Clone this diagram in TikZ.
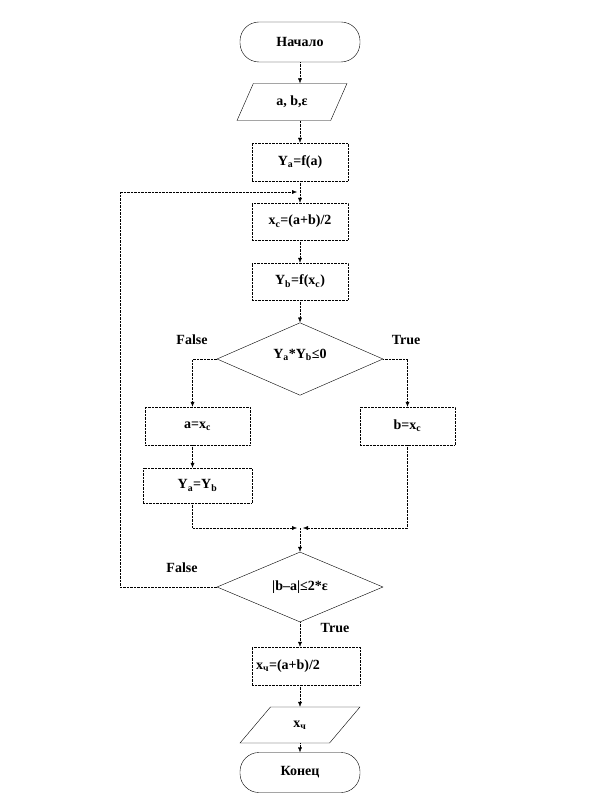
\documentclass[tikz,border=0pt]{standalone}
\usepackage{fontspec}
\setmainfont{Liberation Serif}
\usetikzlibrary{shapes.geometric,arrows.meta}
\begin{document}
\begin{tikzpicture}[x=1pt,y=-1pt,
  every node/.style={font=\fontsize{14}{16}\selectfont\bfseries},
  term/.style={draw, rounded corners=19pt, minimum width=120pt, minimum height=40pt, inner sep=0pt},
  proc/.style={draw, densely dotted, minimum height=38pt, inner sep=0pt},
  io/.style={draw, trapezium, trapezium stretches=true, minimum height=37pt, inner sep=0pt},
  dec/.style={draw, diamond, minimum width=166pt, minimum height=72pt, inner sep=0pt},
  arr/.style={densely dotted, -{Latex[length=5pt,width=4pt]}},
  lbl/.style={}]
\useasboundingbox (0,0) rectangle (600,794);
\node[term] (start) at (300,42) {Начало};
\node[io, trapezium left angle=61, trapezium right angle=119, minimum width=110pt] (in1) at (292,102) {a, b,ε};
\node[proc, minimum width=96pt] (ya) at (300,162) {Y\textsubscript{a}=f(a)};
\node[proc, minimum width=96pt, minimum height=37pt] (xc) at (300,221.5) {x\textsubscript{c}=(a+b)/2};
\node[proc, minimum width=96pt, minimum height=37pt] (yb) at (300,281.5) {Y\textsubscript{b}=f(x\textsubscript{c})};
\node[dec] (d1) at (300,359) {\raisebox{10pt}{Y\textsubscript{a}*Y\textsubscript{b}≤0}};
\node[proc, minimum width=105pt] (ax) at (197.5,426) {a=x\textsubscript{c}};
\node[proc, minimum width=95pt] (bx) at (407.5,426) {b=x\textsubscript{c}};
\node[proc, minimum width=109pt, minimum height=35pt] (yy) at (197.5,485.5) {Y\textsubscript{a}=Y\textsubscript{b}};
\coordinate (m) at (300,528);
\node[dec, minimum height=70pt] (d2) at (300,587) {|b–a|≤2*ε};
\node[proc, minimum width=108pt, text width=100pt, align=left] (xq) at (306,666) {x\textsubscript{ч}=(a+b)/2};
\node[io, trapezium left angle=52, trapezium right angle=128, minimum width=120pt, minimum height=36pt] (out) at (300,725) {x\textsubscript{ч}};
\node[term] (end) at (300,772.5) {Конец};
\coordinate (lc) at (120,192);
\coordinate (lj) at (300,192);
\node[lbl] (f1) at (192,340) {False};
\node[lbl] (t1) at (406,340) {True};
\node[lbl] (f2) at (182,568) {False};
\node[lbl] (t2) at (335,628) {True};
\draw[arr] (start.south) -- (start.south |- in1.north);
\draw[arr] (ya.north |- in1.south) -- (ya.north);
\draw[arr] (ya.south) -- (xc.north);
\draw[arr] (xc.south) -- (yb.north);
\draw[arr] (yb.south) -- (d1.north);
\draw[arr] (d1.west) -| ([xshift=-5pt]ax.north);
\draw[arr] (d1.east) -| (bx.north);
\draw[arr] ([xshift=-5pt]ax.south) -- ([xshift=-5pt]yy.north);
\draw[arr] ([xshift=-5pt]yy.south) |- ([xshift=-3pt]m);
\draw[arr] (bx.south) |- ([xshift=3pt]m);
\draw[arr] (m) -- (d2.north);
\draw[arr] (d2.west) -| (lc) -- ([xshift=-3pt]lj);
\draw[arr] (d2.south) -- (d2.south |- xq.north);
\draw[arr] (d2.south |- xq.south) -- (d2.south |- out.north);
\draw[arr] (d2.south |- out.south) -- (end.north);
\end{tikzpicture}
\end{document}
